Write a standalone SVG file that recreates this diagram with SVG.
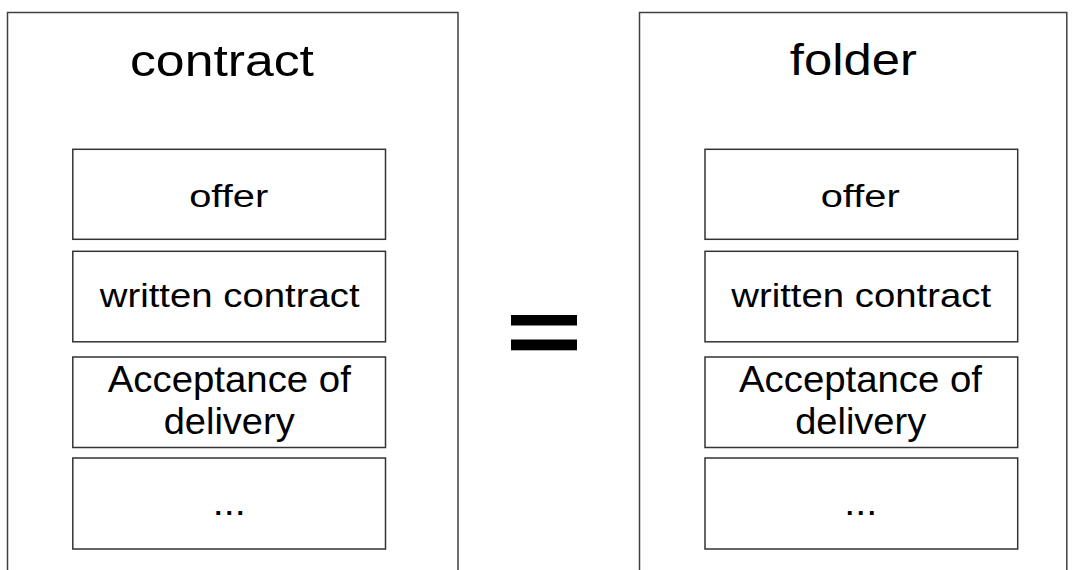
<svg xmlns="http://www.w3.org/2000/svg" width="1077" height="570" viewBox="0 0 1077 570">
<style>
.outer{fill:#fff;stroke:#404040;stroke-width:1.5}
.box{fill:#fff;stroke:#333;stroke-width:1.5}
text{font-family:"Liberation Sans",Arial,sans-serif;fill:#000;text-anchor:middle}
</style>
<rect width="1077" height="570" fill="#fff"/>
<g id="contract">
<rect class="outer" x="7.5" y="12.5" width="450.5" height="600"/>
<text x="222" y="75.5" font-size="45" textLength="184" lengthAdjust="spacingAndGlyphs">contract</text>
</g>
<g id="contract-offer">
<rect class="box" x="72.8" y="149.3" width="312.7" height="90"/>
<text x="228.7" y="206.5" font-size="31" textLength="79" lengthAdjust="spacingAndGlyphs">offer</text>
</g>
<g id="contract-written">
<rect class="box" x="72.8" y="251.3" width="312.7" height="90.5"/>
<text x="229.7" y="306.5" font-size="32.5" textLength="260" lengthAdjust="spacingAndGlyphs">written contract</text>
</g>
<g id="contract-acceptance">
<rect class="box" x="72.8" y="357" width="312.7" height="90.5"/>
<text x="229.3" y="391.5" font-size="37" textLength="243" lengthAdjust="spacingAndGlyphs">Acceptance of</text>
<text x="229.2" y="434" font-size="37" textLength="131" lengthAdjust="spacingAndGlyphs">delivery</text>
</g>
<g id="contract-more">
<rect class="box" x="72.8" y="458" width="312.7" height="91"/>
<text x="229.2" y="514.7" font-size="36" textLength="33" lengthAdjust="spacingAndGlyphs">...</text>
</g>
<g id="equals">
<rect x="511" y="315" width="66" height="10.5" fill="#000"/>
<rect x="511" y="339.5" width="66" height="10.8" fill="#000"/>
</g>
<g id="folder">
<rect class="outer" x="639.5" y="12.5" width="427.3" height="600"/>
<text x="853.3" y="74.5" font-size="44" textLength="127" lengthAdjust="spacingAndGlyphs">folder</text>
</g>
<g id="folder-offer">
<rect class="box" x="705" y="149.3" width="312.7" height="90"/>
<text x="860.2" y="206.5" font-size="31" textLength="79" lengthAdjust="spacingAndGlyphs">offer</text>
</g>
<g id="folder-written">
<rect class="box" x="705" y="251.3" width="312.7" height="90.5"/>
<text x="861.2" y="306.5" font-size="32.5" textLength="260" lengthAdjust="spacingAndGlyphs">written contract</text>
</g>
<g id="folder-acceptance">
<rect class="box" x="705" y="357" width="312.7" height="90.5"/>
<text x="860.5" y="391.5" font-size="37" textLength="243" lengthAdjust="spacingAndGlyphs">Acceptance of</text>
<text x="860.7" y="434" font-size="37" textLength="131" lengthAdjust="spacingAndGlyphs">delivery</text>
</g>
<g id="folder-more">
<rect class="box" x="705" y="458" width="312.7" height="91"/>
<text x="860.7" y="514.7" font-size="36" textLength="33" lengthAdjust="spacingAndGlyphs">...</text>
</g>
<g id="connectors"></g>
</svg>
